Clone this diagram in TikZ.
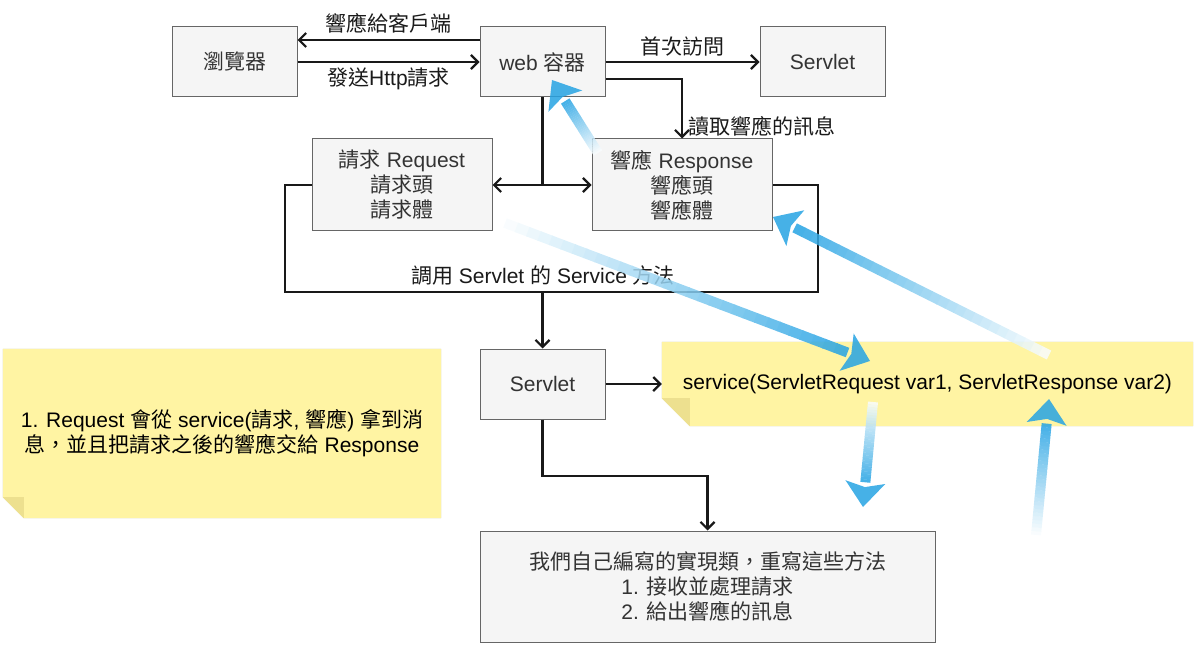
\documentclass[tikz,border=0pt]{standalone}
\usepackage{fontspec}
\setmainfont{Liberation Sans}
\newfontfamily\cjkf{Noto Sans CJK TC}
\usetikzlibrary{arrows.meta,calc,backgrounds}
\definecolor{boxfill}{HTML}{F5F5F5}
\definecolor{boxline}{HTML}{666666}
\definecolor{boxtext}{HTML}{333333}
\definecolor{labtext}{HTML}{1A1A1A}
\definecolor{notefill}{HTML}{FFF4A3}
\definecolor{notefold}{HTML}{EDE08F}
\definecolor{noteshadow}{HTML}{B8B8B8}
\definecolor{gblue}{RGB}{38,163,227}
\newcommand\zh[1]{{\cjkf #1}}
% gradient block arrow: #1 tail, #2 tip
\newcommand\gradarrow[2]{%
  \coordinate (gT) at #1;
  \coordinate (gH) at #2;
  \coordinate (gB) at ($(gH)!25pt!(gT)$);
  \begin{scope}[transparency group, opacity=0.85]
  \foreach \i in {0,...,29}{%
    \pgfmathsetmacro\ta{\i/30}%
    \pgfmathsetmacro\tb{(\i+1.08)/30}%
    \pgfmathsetmacro\cc{100*(\i+1)/30}%
    \draw[line width=10pt, draw=gblue!\cc!white] ($(gT)!\ta!(gB)$) -- ($(gT)!\tb!(gB)$);
  }
  \fill[gblue] (gH) -- ($(gB)!20pt!90:(gH)$) -- ($(gH)!20pt!(gT)$) -- ($(gB)!20pt!-90:(gH)$) -- cycle;
  \end{scope}
}
\begin{document}
\begin{tikzpicture}[x=1pt,y=-1pt,
  txt/.style={font=\fontsize{21}{25}\selectfont},
  box/.style={txt, draw=boxline, fill=boxfill, line width=1pt, text=boxtext,
    minimum width=125pt, minimum height=70pt, inner sep=0pt, align=center},
  lab/.style={txt, text=labtext, inner sep=0pt, align=center},
  line/.style={draw=black!90, line width=2.2pt},
  conn/.style={line, -{Straight Barb[length=7pt,width=14pt]}},
  conn2/.style={line, {Straight Barb[length=7pt,width=14pt]}-{Straight Barb[length=7pt,width=14pt]}},
]
\useasboundingbox (0,0) rectangle (1203,647);

% boxes
\node[box] (br) at (234.5,62) {\zh{瀏覽器}};
\node[box] (web) at (542.5,62) {web \zh{容器}};
\node[box] (s1) at (822.5,62) {Servlet};
\node[box, minimum width=180pt, minimum height=92pt] (req) at (402,185) {\zh{請求} Request\\\zh{請求頭}\\\zh{請求體}};
\node[box, minimum width=180pt, minimum height=92pt] (resp) at (682,185) {\zh{響應} Response\\\zh{響應頭}\\\zh{響應體}};
\node[box] (s2) at (542.5,384) {Servlet};
\node[box, minimum width=455pt, minimum height=111pt] (bot) at (707.5,586.5)
  {\zh{我們自己編寫的實現類，重寫這些方法}\\1. \zh{接收並處理請求}\\2. \zh{給出響應的訊息}};

% notes
\node[lab, minimum width=438pt, minimum height=169pt, text=black] (n1) at (222,433.5)
  {1. Request \zh{會從} service(\zh{請求}, \zh{響應}) \zh{拿到消}\\\zh{息，並且把請求之後的響應交給} Response};
\node[lab, minimum width=531pt, minimum height=84pt, text=black] (svc) at (927.5,384)
  {service(ServletRequest var1, ServletResponse var2)};

\begin{scope}[on background layer]
  \foreach \n/\f in {n1/21, svc/28}{
    \fill[noteshadow, xshift=3pt, yshift=-4pt] (\n.north west) -- (\n.north east) -- (\n.south east)
      -- ([xshift=\f pt]\n.south west) -- ([yshift=\f pt]\n.south west) -- cycle;
    \fill[notefill] (\n.north west) -- (\n.north east) -- (\n.south east)
      -- ([xshift=\f pt]\n.south west) -- ([yshift=\f pt]\n.south west) -- cycle;
    \fill[notefold] ([yshift=\f pt]\n.south west) -- ([xshift=\f pt,yshift=\f pt]\n.south west)
      -- ([xshift=\f pt]\n.south west) -- cycle;
  }
\end{scope}

% connectors
\draw[conn] ([yshift=22pt]web.west) -- ([yshift=22pt]br.east)
  node[lab, midway, above=6pt] {\zh{響應給客戶端}};
\draw[conn] (br.east) -- (web.west)
  node[lab, midway, below=5pt] {\zh{發送}Http\zh{請求}};
\draw[conn] (web.east) -- (s1.west)
  node[lab, midway, above=5pt] {\zh{首次訪問}};
\draw[conn] ([yshift=-17pt]web.east) -| (resp.north)
  node[lab, pos=0.9, anchor=west, xshift=5pt] {\zh{讀取響應的訊息}};
\coordinate (j1) at (web.south |- req.east);
\draw[line] (web.south) -- (j1);
\draw[conn2] (req.east) -- (resp.west);
\coordinate (lb) at (web.south |- 0,292);
\draw[line] (req.west) -- (285,185) -- (285,292) -- (818,292) -- (818,185) -- (resp.east);
\node[lab] (looplab) at (543,276) {\zh{調用} Servlet \zh{的} Service \zh{方法}};
\draw[conn] (lb) -- (s2.north);
\draw[conn] (s2.east) -- (svc.west);
\coordinate (b1) at (s2.south |- 0,476);
\draw[conn] (s2.south) -- (b1) -| (bot.north);

% gradient arrows
\gradarrow{(505,223)}{(870,361)}
\gradarrow{(1049,355)}{(773,217)}
\gradarrow{(598,153)}{(552,80)}
\gradarrow{(873,402)}{(863,507)}
\gradarrow{(1036,535)}{(1049,399)}
\end{tikzpicture}
\end{document}
